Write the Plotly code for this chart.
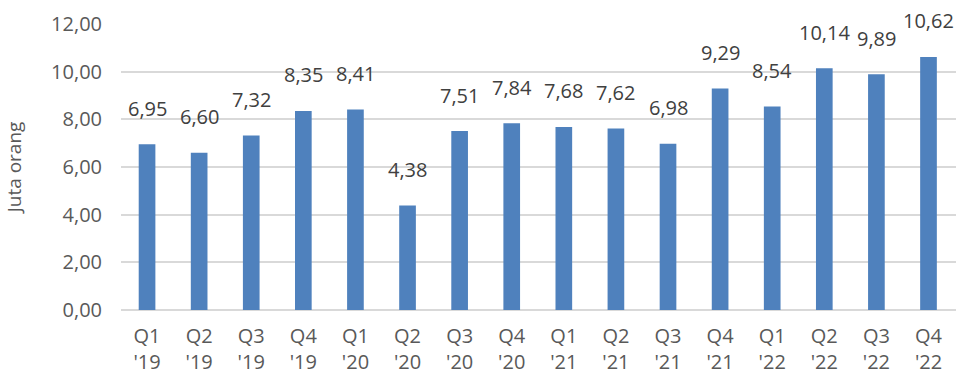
import plotly.graph_objects as go

quarters = ["Q1<br>'19", "Q2<br>'19", "Q3<br>'19", "Q4<br>'19",
            "Q1<br>'20", "Q2<br>'20", "Q3<br>'20", "Q4<br>'20",
            "Q1<br>'21", "Q2<br>'21", "Q3<br>'21", "Q4<br>'21",
            "Q1<br>'22", "Q2<br>'22", "Q3<br>'22", "Q4<br>'22"]
values = [6.95, 6.60, 7.32, 8.35, 8.41, 4.38, 7.51, 7.84,
          7.68, 7.62, 6.98, 9.29, 8.54, 10.14, 9.89, 10.62]
y_ticks = [0, 2, 4, 6, 8, 10, 12]

font_family = "Open Sans, Noto Sans, sans-serif"
fs = 20

fig = go.Figure()
fig.add_trace(go.Bar(
    x=quarters, y=values,
    marker=dict(color="#4F81BD", line=dict(width=0)),
    hoverinfo="skip",
))

for q, v in zip(quarters, values):
    fig.add_annotation(
        x=q, y=v, text=f"{v:.2f}".replace(".", ","),
        showarrow=False, yshift=36,
        font=dict(family=font_family, size=fs, color="#404040"),
    )

fig.update_layout(
    width=957, height=376,
    margin=dict(l=121, r=1, t=24, b=66),
    paper_bgcolor="white", plot_bgcolor="white",
    bargap=0.68,
    separators=",.",
    showlegend=False,
    font=dict(family=font_family, size=fs, color="#595959"),
)
fig.update_xaxes(
    type="category", automargin=False,
    tickfont=dict(family=font_family, size=fs, color="#595959"),
    showgrid=False, showline=False, ticks="",
    ticklabelstandoff=12,
)
fig.update_yaxes(
    range=[0, 12], tickvals=y_ticks, tickformat=".2f", automargin=False,
    showgrid=True, gridcolor="#D9D9D9", gridwidth=2,
    zeroline=True, zerolinecolor="#D9D9D9", zerolinewidth=2,
    showline=False, ticks="",
    ticklabelstandoff=18,
    tickfont=dict(family=font_family, size=fs, color="#595959"),
    title=dict(text="Juta orang", font=dict(family=font_family, size=fs - 1, color="#595959"), standoff=24),
)

fig.write_html("out.html")
